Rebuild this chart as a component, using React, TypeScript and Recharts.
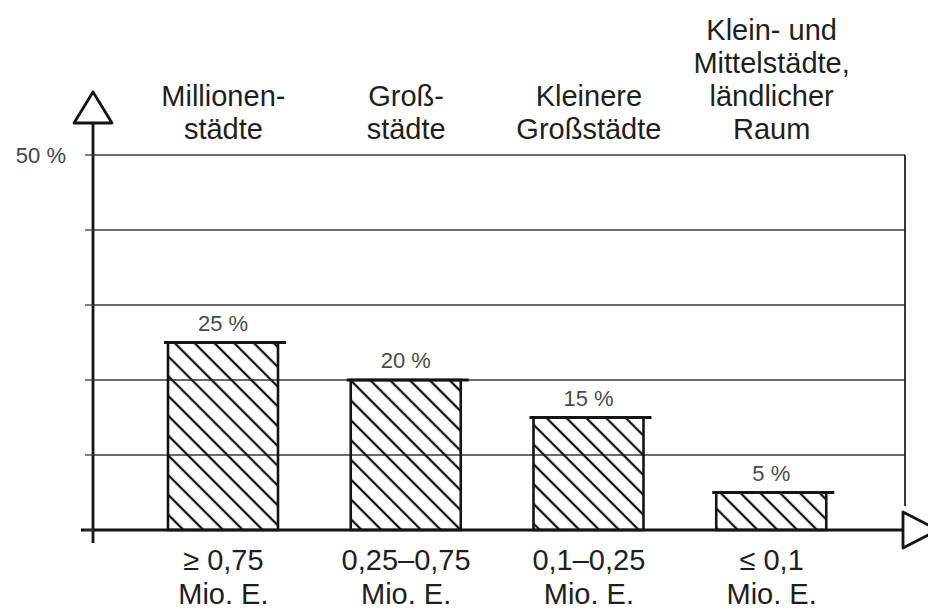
import React from "react";
import {
  BarChart,
  Bar,
  XAxis,
  YAxis,
  CartesianGrid,
  LabelList,
  Customized,
  usePlotArea,
} from "recharts";

const topLabels = [
  "Millionen-|städte",
  "Groß-|städte",
  "Kleinere|Großstädte",
  "Klein- und|Mittelstädte,|ländlicher|Raum",
];
const sizeLabels = [
  "≥ 0,75|Mio. E.",
  "0,25–0,75|Mio. E.",
  "0,1–0,25|Mio. E.",
  "≤ 0,1|Mio. E.",
];
const shares = [25, 20, 15, 5];
const yTicks = [0, 10, 20, 30, 40, 50];

const data = topLabels.map((t, i) => ({
  type: t,
  size: sizeLabels[i],
  share: shares[i],
}));

const FONT = "'Liberation Sans', Arial, Helvetica, sans-serif";
const INK = "#141414";

const TopTick = (props: any) => {
  const { x, y, payload } = props;
  const lines = String(payload.value).split("|");
  const n = lines.length;
  return (
    <g>
      {lines.map((l, i) => (
        <text
          key={i}
          x={x}
          y={y - 16 - (n - 1 - i) * 33}
          textAnchor="middle"
          fontSize={29}
          fontFamily={FONT}
          fill="#1e1e1e"
        >
          {l}
        </text>
      ))}
    </g>
  );
};

const BottomTick = (props: any) => {
  const { x, y, payload } = props;
  const lines = String(payload.value).split("|");
  return (
    <g>
      {lines.map((l, i) => (
        <text
          key={i}
          x={x}
          y={y + 40 + i * 34}
          textAnchor="middle"
          fontSize={29}
          fontFamily={FONT}
          fill="#1e1e1e"
        >
          {l}
        </text>
      ))}
    </g>
  );
};

const HatchBar = (props: any) => {
  const { x, y, width, height } = props;
  if (width == null || height == null) return null;
  return (
    <g>
      <rect
        x={x}
        y={y}
        width={width}
        height={height}
        fill="url(#hatch)"
        stroke={INK}
        strokeWidth={2.6}
      />
      <line
        x1={x - 4}
        x2={x + width + 8}
        y1={y}
        y2={y}
        stroke={INK}
        strokeWidth={2.8}
      />
    </g>
  );
};

const Axes = () => {
  const area: any = usePlotArea();
  if (!area) return null;
  const { x, y, width, height } = area;
  const left = x - 1;
  const bottom = y + height;
  const right = x + width;
  return (
    <g>
      <line
        x1={right}
        x2={right}
        y1={y}
        y2={bottom - 24}
        stroke="#222"
        strokeWidth={1.8}
      />
      <line
        x1={left}
        x2={left}
        y1={y - 32}
        y2={bottom + 13}
        stroke={INK}
        strokeWidth={2.8}
      />
      <polygon
        points={`${left},${y - 63} ${left - 19},${y - 32} ${left + 19},${y - 32}`}
        fill="#fff"
        stroke={INK}
        strokeWidth={2.8}
        strokeLinejoin="round"
      />
      <line
        x1={left - 12}
        x2={right}
        y1={bottom}
        y2={bottom}
        stroke={INK}
        strokeWidth={2.8}
      />
      <polygon
        points={`${right - 2},${bottom - 18} ${right - 2},${bottom + 18} ${right + 33},${bottom}`}
        fill="#fff"
        stroke={INK}
        strokeWidth={2.8}
        strokeLinejoin="round"
      />
    </g>
  );
};

export default function App() {
  return (
    <div
      style={{
        position: "absolute",
        left: 0,
        top: 0,
        width: 928,
        height: 613,
        background: "#fff",
      }}
    >
      <BarChart
        width={928}
        height={613}
        data={data}
        margin={{ top: 0, right: 23, bottom: 0, left: 0 }}
        barCategoryGap={0}
      >
        <defs>
          <pattern
            id="hatch"
            patternUnits="userSpaceOnUse"
            width={14}
            height={14}
            patternTransform="rotate(45)"
          >
            <line x1={0} y1={7} x2={14} y2={7} stroke={INK} strokeWidth={2.3} />
          </pattern>
        </defs>
        <CartesianGrid vertical={false} stroke="#3a3a3a" strokeWidth={1.3} />
        <XAxis
          xAxisId="top"
          orientation="top"
          dataKey="type"
          height={155}
          axisLine={false}
          tickLine={false}
          tickSize={0}
          tickMargin={0}
          interval={0}
          padding={{ left: 38, right: 42 }}
          tick={<TopTick />}
        />
        <XAxis
          dataKey="size"
          height={83}
          axisLine={false}
          tickLine={false}
          tickSize={0}
          tickMargin={0}
          interval={0}
          padding={{ left: 38, right: 42 }}
          tick={<BottomTick />}
        />
        <YAxis
          width={94}
          domain={[0, 50]}
          ticks={yTicks}
          interval={0}
          axisLine={false}
          tickLine={{ stroke: "#3a3a3a", strokeWidth: 1.3 }}
          tickSize={9}
          tickMargin={19}
          tickFormatter={(v: number) => (v === 50 ? "50 %" : "")}
          tick={{ fontSize: 22, fill: "#444", fontFamily: FONT }}
        />
        <Bar
          dataKey="share"
          barSize={110}
          shape={<HatchBar />}
          isAnimationActive={false}
        >
          <LabelList
            dataKey="share"
            position="top"
            offset={12}
            formatter={(v: any) => `${v} %`}
            fill="#4a4a4a"
            fontSize={22}
            fontFamily={FONT}
          />
        </Bar>
        <Customized component={<Axes />} />
      </BarChart>
    </div>
  );
}
